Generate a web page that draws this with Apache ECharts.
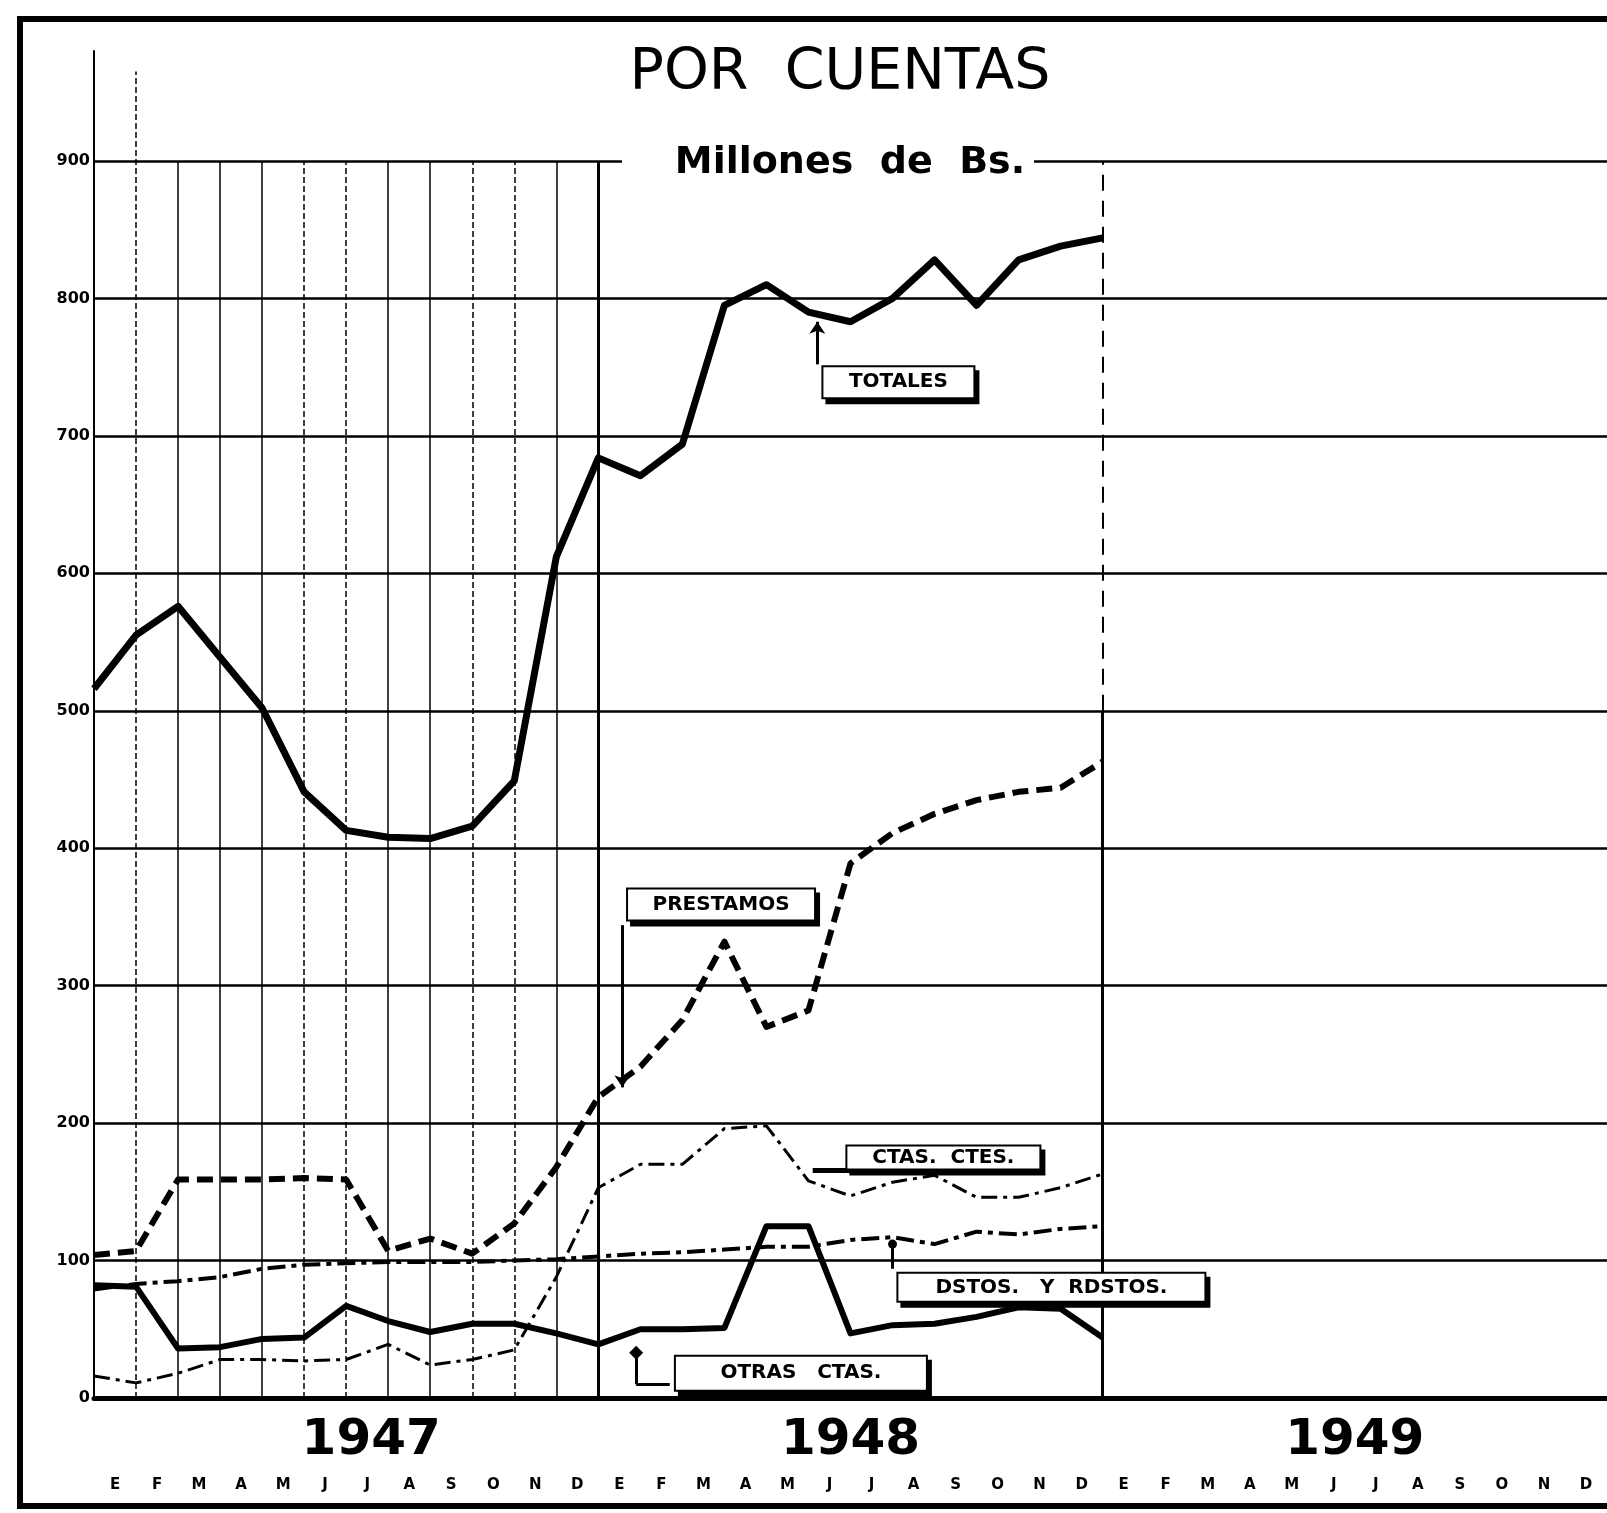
<!DOCTYPE html>
<html>
<head>
<meta charset="utf-8">
<script src="https://cdn.jsdelivr.net/npm/echarts@6/dist/echarts.min.js"></script>
<style>
    html, body { margin: 0; padding: 0; background: #fff; }
    #chart { width: 1607px; height: 1513px; }
</style>
</head>
<body>
<div id="chart"></div>
<script>
// meses (inicial en castellano) y años
var months = ['E', 'F', 'M', 'A', 'M', 'J', 'J', 'A', 'S', 'O', 'N', 'D'];
var years = ['1947', '1948', '1949'];

// valores a fin de mes, dic. 1946 .. dic. 1948 (millones de Bs.)
var totales = [516, 555, 576, 539, 502, 441, 413, 408, 407, 416, 449, 612, 684,
    671, 694, 795, 810, 790, 783, 800, 828, 795, 828, 838, 844];
var prestamos = [104, 107, 159, 159, 159, 160, 159, 107, 116, 105, 127, 168, 219,
    241, 275, 332, 270, 282, 389, 411, 425, 435, 441, 444, 463];
var ctasCtes = [16, 11, 18, 28, 28, 27, 28, 39, 24, 28, 35, 88, 153,
    170, 170, 196, 198, 158, 147, 157, 162, 146, 146, 153, 163];
var dstos = [79, 83, 85, 88, 94, 97, 98, 99, 99, 99, 100, 101, 103,
    105, 106, 108, 110, 110, 115, 117, 112, 121, 119, 123, 125];
var otras = [82, 81, 36, 37, 43, 44, 67, 56, 48, 54, 54, 47, 39,
    50, 50, 51, 125, 125, 47, 53, 54, 59, 66, 65, 44];

function pts(arr) {
    return arr.map(function (v, i) { return [i, v]; });
}

var FONT = 'DejaVu Sans';
var monthLabels = months.concat(months, months);

var boxLabel = {
    show: true,
    position: 'inside',
    color: '#000',
    fontFamily: FONT,
    fontWeight: 'bold',
    fontSize: 20,
    backgroundColor: '#fff',
    borderColor: '#000',
    borderWidth: 2,
    shadowColor: '#000',
    shadowBlur: 0,
    shadowOffsetX: 4,
    shadowOffsetY: 5,
    align: 'center',
    verticalAlign: 'middle'
};

function note(x, y, text, w, h) {
    return {
        coord: [x, y],
        symbol: 'rect',
        symbolSize: 1,
        itemStyle: {color: 'rgba(0,0,0,0)'},
        label: Object.assign({}, boxLabel, {formatter: text, width: w, height: h})
    };
}

var leader = {color: '#000', width: 3, type: 'solid'};

// rejilla vertical de 1947
var vLines = [];
var vTypes = ['dashed', 'solid', 'solid', 'solid', 'dashed', 'dashed', 'solid', 'solid', 'dashed', 'dashed', 'solid'];
for (var i = 1; i <= 11; i++) {
    vLines.push([
        {coord: [i, 0], lineStyle: {color: '#000', width: 1.5, type: vTypes[i - 1]}},
        {coord: [i, i === 1 ? 965 : 900]}
    ]);
}
vLines.push([{coord: [12, 0], lineStyle: {color: '#000', width: 3, type: 'solid'}}, {coord: [12, 900]}]);
vLines.push([{coord: [24, 0], lineStyle: {color: '#000', width: 3, type: 'solid'}}, {coord: [24, 500]}]);
vLines.push([{coord: [24, 500], lineStyle: {color: '#000', width: 2, type: [16, 10]}}, {coord: [24, 900]}]);

var myChart = echarts.init(document.getElementById('chart'));

var option = {
    animation: false,
    backgroundColor: '#fff',
    grid: [
        {left: 94, right: 0, top: 51, bottom: 115},
        {left: 94, right: 0, top: 51, bottom: 115},
        {left: 94, right: 0, top: 51, bottom: 115}
    ],
    xAxis: [
        {
            type: 'value', gridIndex: 0, min: 0, max: 36,
            axisLine: {show: true, onZero: false, lineStyle: {color: '#000', width: 5}},
            axisTick: {show: false}, axisLabel: {show: false}, splitLine: {show: false}
        },
        {
            type: 'category', gridIndex: 1, data: monthLabels, boundaryGap: true,
            axisLine: {show: false}, axisTick: {show: false}, splitLine: {show: false},
            axisLabel: {
                interval: 0, margin: 80, color: '#000',
                fontFamily: FONT, fontWeight: 'bold', fontSize: 15
            }
        },
        {
            type: 'category', gridIndex: 2, data: years, boundaryGap: true,
            axisLine: {show: false}, axisTick: {show: false}, splitLine: {show: false},
            axisLabel: {
                interval: 0, margin: 18, color: '#000',
                fontFamily: FONT, fontWeight: 'bold', fontSize: 50,
                formatter: function (v, idx) { return idx === 0 ? '{a|' + v + '}' : v; },
                rich: {a: {fontFamily: FONT, fontWeight: 'bold', fontSize: 50, color: '#000', padding: [0, 0, 0, 50]}}
            }
        }
    ],
    yAxis: [
        {
            type: 'value', gridIndex: 0, min: 0, max: 980, interval: 100,
            axisLine: {show: true, lineStyle: {color: '#000', width: 2}},
            axisTick: {show: false},
            axisLabel: {
                margin: 4, color: '#000', fontFamily: FONT, fontWeight: 'bold', fontSize: 16,
                formatter: function (v) { return v % 100 === 0 ? String(v) : ''; }
            },
            splitLine: {show: true, showMaxLine: false, lineStyle: {color: '#000', width: 2.5}}
        },
        {type: 'value', gridIndex: 1, show: false, min: 0, max: 1},
        {type: 'value', gridIndex: 2, show: false, min: 0, max: 1}
    ],
    graphic: [
        {
            type: 'rect', z: 100, silent: true,
            shape: {x: 20, y: 19, width: 1600, height: 1487},
            style: {fill: null, stroke: '#000', lineWidth: 6}
        },
        {
            type: 'rect', z: 100, silent: true,
            shape: {x: 622, y: 140, width: 412, height: 44},
            style: {fill: '#fff'}
        },
        {
            type: 'text', z: 101, x: 840, y: 74,
            style: {
                text: 'POR  CUENTAS', fill: '#000', font: '57px "DejaVu Sans"',
                textAlign: 'center', textVerticalAlign: 'middle'
            }
        },
        {
            type: 'text', z: 101, x: 850, y: 163,
            style: {
                text: 'Millones  de  Bs.', fill: '#000', font: 'bold 38px "DejaVu Sans"',
                textAlign: 'center', textVerticalAlign: 'middle'
            }
        }
    ],
    series: [
        {
            name: 'rejilla', type: 'line', data: [], silent: true,
            markLine: {silent: true, symbol: ['none', 'none'], label: {show: false}, data: vLines}
        },
        {
            name: 'TOTALES', type: 'line', data: pts(totales), showSymbol: false,
            lineStyle: {color: '#000', width: 7, join: 'round'},
            markPoint: {data: [note(19.14, 739, 'TOTALES', 150, 30)]},
            markLine: {
                silent: true, symbol: ['none', 'arrow'], symbolSize: 12, label: {show: false}, lineStyle: leader,
                data: [[{coord: [17.21, 752]}, {coord: [17.21, 783]}]]
            }
        },
        {
            name: 'PRESTAMOS', type: 'line', data: pts(prestamos), showSymbol: false,
            lineStyle: {color: '#000', width: 6, type: [16, 8], join: 'round'},
            markPoint: {data: [note(14.92, 359, 'PRESTAMOS', 186, 30)]},
            markLine: {
                silent: true, symbol: ['none', 'arrow'], symbolSize: 12, label: {show: false}, lineStyle: leader,
                data: [[{coord: [12.57, 344]}, {coord: [12.57, 226]}]]
            }
        },
        {
            name: 'CTAS. CTES.', type: 'line', data: pts(ctasCtes), showSymbol: false,
            lineStyle: {color: '#000', width: 3, type: [16, 6, 4, 6]},
            markPoint: {data: [note(20.21, 175, 'CTAS.  CTES.', 192, 22)]},
            markLine: {
                silent: true, symbol: ['none', 'none'], label: {show: false},
                lineStyle: {color: '#000', width: 5, type: 'solid'},
                data: [[{coord: [17.1, 166]}, {coord: [18.2, 166]}]]
            }
        },
        {
            name: 'DSTOS. Y RDSTOS.', type: 'line', data: pts(dstos), showSymbol: false,
            lineStyle: {color: '#000', width: 4, type: [18, 6, 5, 6]},
            markPoint: {data: [note(22.78, 80.5, 'DSTOS.   Y  RDSTOS.', 306, 27)]},
            markLine: {
                silent: true, symbol: ['none', 'circle'], symbolSize: 9, label: {show: false}, lineStyle: leader,
                data: [[{coord: [19.0, 94]}, {coord: [19.0, 112]}]]
            }
        },
        {
            name: 'OTRAS CTAS.', type: 'line', data: pts(otras), showSymbol: false,
            lineStyle: {color: '#000', width: 6, join: 'round'},
            markPoint: {data: [note(16.82, 18, 'OTRAS   CTAS.', 250, 33)]},
            markLine: {
                silent: true, symbol: ['none', 'none'], label: {show: false}, lineStyle: leader,
                data: [
                    [{coord: [13.7, 10]}, {coord: [12.9, 10]}],
                    [{coord: [12.9, 10], symbol: 'none'}, {coord: [12.9, 33], symbol: 'diamond', symbolSize: 14}]
                ]
            }
        }
    ]
};

myChart.setOption(option);
</script>
</body>
</html>
